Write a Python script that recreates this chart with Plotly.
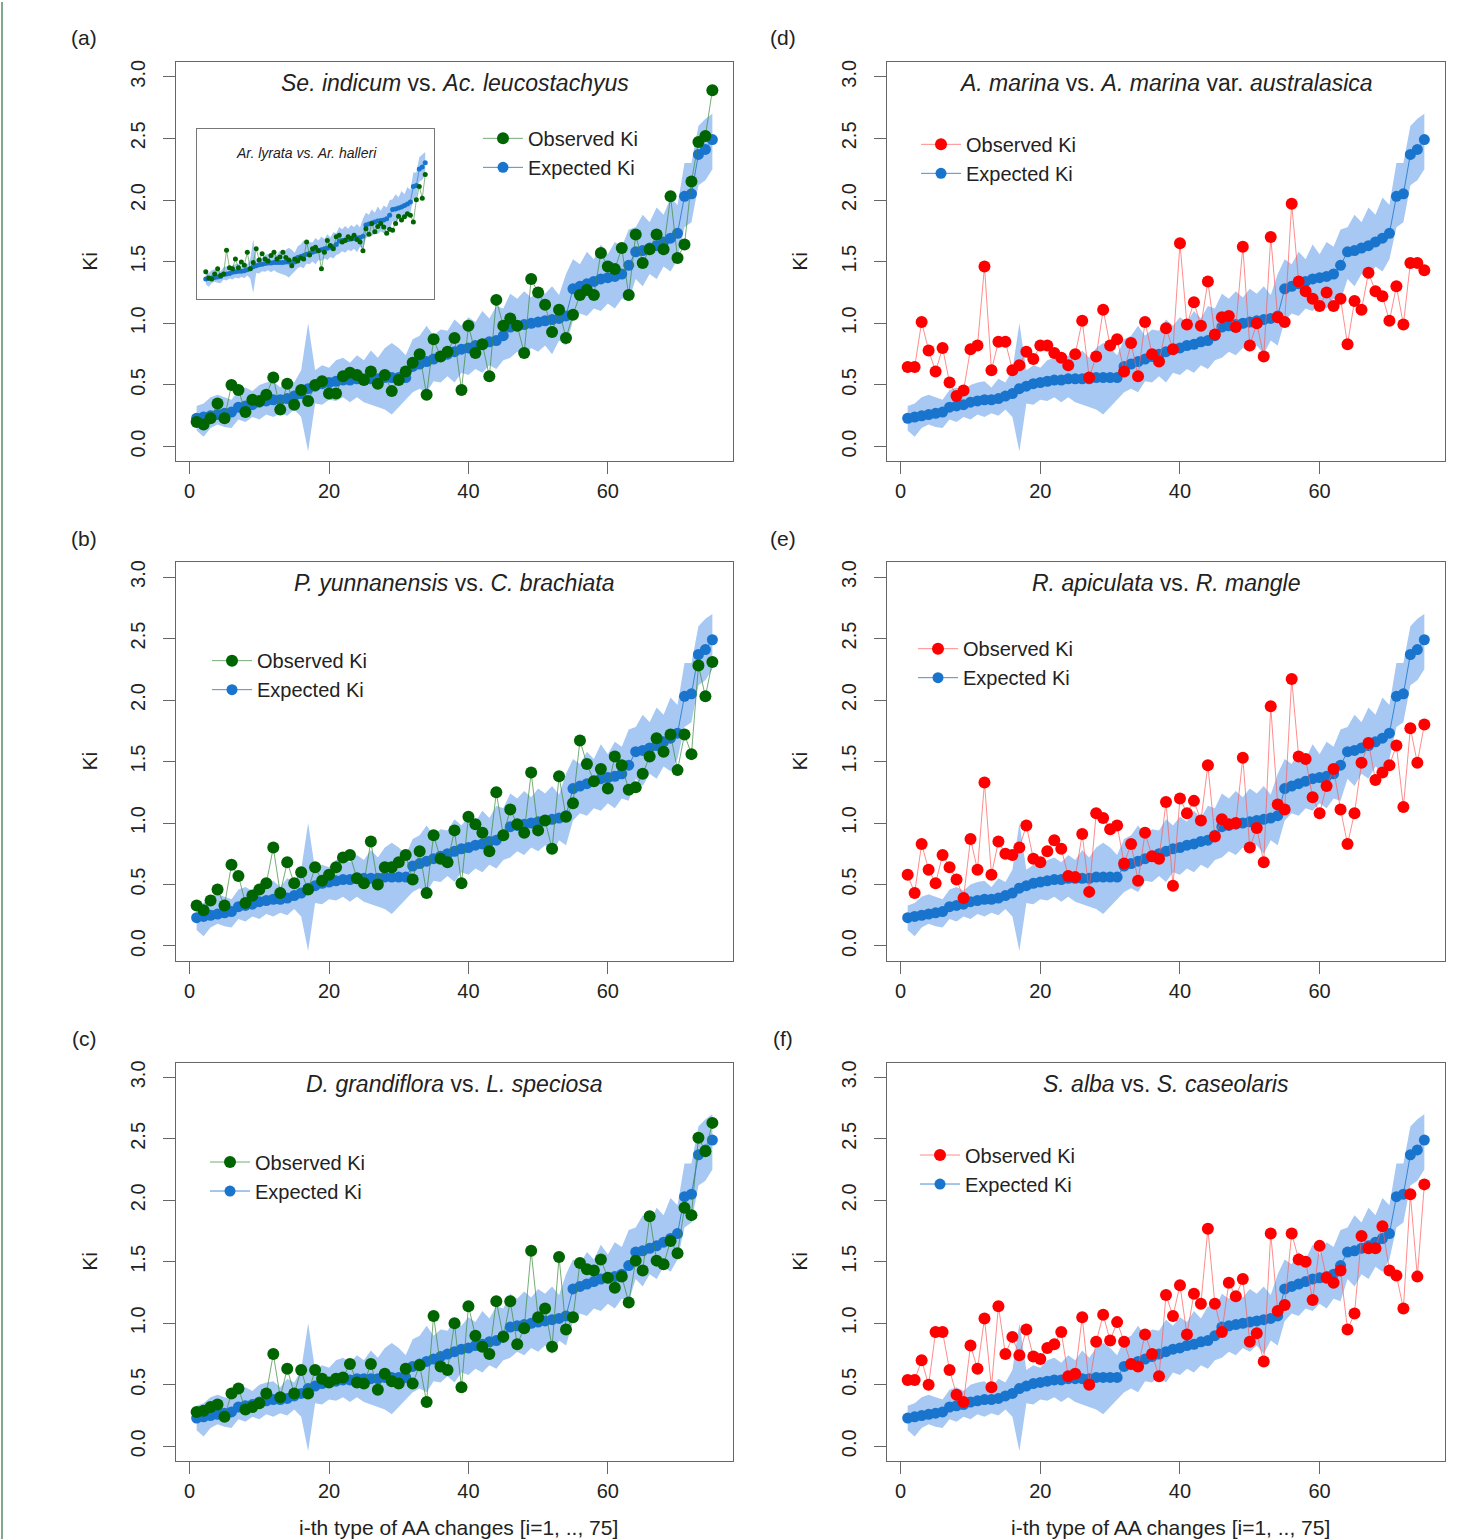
import plotly.graph_objects as go

W, H = 1480, 1539

# ---------------- data ----------------
x_idx = list(range(1, 76))

expected = [0.23, 0.24, 0.25, 0.26, 0.27, 0.28, 0.32, 0.33, 0.34, 0.36,
            0.37, 0.38, 0.38, 0.39, 0.41, 0.43, 0.47, 0.49, 0.51, 0.52,
            0.53, 0.54, 0.54, 0.55, 0.55, 0.55, 0.55, 0.56, 0.56, 0.56,
            0.56, 0.65, 0.67, 0.69, 0.71, 0.73, 0.75, 0.77, 0.79, 0.80,
            0.82, 0.83, 0.85, 0.86, 0.90, 0.97, 0.98, 0.99, 1.00, 1.01,
            1.02, 1.03, 1.04, 1.06, 1.28, 1.30, 1.32, 1.34, 1.36, 1.37,
            1.38, 1.40, 1.47, 1.58, 1.59, 1.61, 1.63, 1.66, 1.69, 1.73,
            2.03, 2.05, 2.37, 2.41, 2.49]

band_lower = [0.13, 0.08, 0.15, 0.18, 0.16, 0.15, 0.22, 0.20, 0.24, 0.22,
              0.26, 0.24, 0.27, 0.25, 0.30, 0.24, -0.04, 0.35, 0.34, 0.38,
              0.37, 0.40, 0.36, 0.40, 0.36, 0.34, 0.32, 0.30, 0.26, 0.32,
              0.38, 0.44, 0.47, 0.44, 0.53, 0.52, 0.57, 0.52, 0.60, 0.58,
              0.63, 0.60, 0.66, 0.63, 0.70, 0.72, 0.77, 0.74, 0.80, 0.77,
              0.82, 0.75, 0.86, 0.82, 1.02, 1.08, 1.06, 1.12, 1.10, 1.16,
              1.12, 1.20, 1.18, 1.36, 1.30, 1.40, 1.36, 1.46, 1.42, 1.52,
              1.78, 1.82, 2.12, 2.16, 2.25]

band_upper = [0.33, 0.35, 0.40, 0.42, 0.40, 0.38, 0.46, 0.48, 0.45, 0.50,
              0.52, 0.53, 0.48, 0.55, 0.52, 0.62, 1.00, 0.62, 0.66, 0.64,
              0.70, 0.72, 0.68, 0.74, 0.70, 0.78, 0.72, 0.80, 0.84, 0.80,
              0.74, 0.87, 0.90, 0.98, 0.90, 0.95, 0.94, 1.03, 0.98, 1.05,
              1.01, 1.10, 1.04, 1.14, 1.12, 1.24, 1.20, 1.26, 1.21, 1.28,
              1.24, 1.30, 1.23, 1.40, 1.52, 1.48, 1.58, 1.52, 1.64, 1.56,
              1.66, 1.62, 1.76, 1.78, 1.88, 1.82, 1.94, 1.88, 2.02, 1.96,
              2.30, 2.30, 2.60, 2.66, 2.70]

obs_a = [0.20, 0.18, 0.23, 0.35, 0.23, 0.50, 0.46, 0.28, 0.38, 0.37,
         0.42, 0.56, 0.30, 0.51, 0.34, 0.46, 0.37, 0.50, 0.53, 0.43,
         0.43, 0.57, 0.60, 0.58, 0.54, 0.61, 0.51, 0.58, 0.45, 0.54,
         0.61, 0.68, 0.75, 0.42, 0.87, 0.73, 0.77, 0.88, 0.46, 0.98,
         0.76, 0.83, 0.57, 1.19, 0.98, 1.04, 0.98, 0.76, 1.36, 1.25,
         1.15, 0.93, 1.11, 0.88, 1.07, 1.23, 1.27, 1.23, 1.57, 1.46,
         1.44, 1.61, 1.23, 1.72, 1.49, 1.60, 1.72, 1.60, 2.03, 1.53,
         1.64, 2.15, 2.47, 2.52, 2.89]

obs_b = [0.33, 0.29, 0.37, 0.46, 0.33, 0.66, 0.57, 0.35, 0.41, 0.46,
         0.51, 0.80, 0.43, 0.68, 0.51, 0.60, 0.46, 0.64, 0.53, 0.58,
         0.64, 0.72, 0.74, 0.55, 0.51, 0.85, 0.50, 0.64, 0.64, 0.68,
         0.74, 0.54, 0.77, 0.43, 0.90, 0.71, 0.68, 0.94, 0.51, 1.05,
         0.99, 0.92, 0.77, 1.25, 0.90, 1.11, 0.99, 0.92, 1.41, 0.94,
         1.02, 0.79, 1.38, 1.05, 1.16, 1.67, 1.48, 1.34, 1.44, 1.28,
         1.54, 1.47, 1.27, 1.29, 1.40, 1.54, 1.69, 1.58, 1.72, 1.43,
         1.72, 1.56, 2.28, 2.03, 2.31]

obs_c = [0.28, 0.29, 0.32, 0.34, 0.24, 0.43, 0.47, 0.30, 0.32, 0.35,
         0.43, 0.75, 0.40, 0.63, 0.43, 0.62, 0.43, 0.62, 0.55, 0.52,
         0.55, 0.56, 0.67, 0.52, 0.51, 0.67, 0.46, 0.59, 0.53, 0.51,
         0.63, 0.51, 0.66, 0.36, 1.06, 0.65, 0.62, 1.00, 0.48, 1.14,
         0.90, 0.81, 0.75, 1.18, 0.89, 1.18, 0.83, 0.96, 1.59, 1.05,
         1.12, 0.81, 1.54, 0.95, 1.05, 1.49, 1.44, 1.43, 1.52, 1.37,
         1.29, 1.38, 1.17, 1.51, 1.43, 1.87, 1.51, 1.48, 1.67, 1.57,
         1.94, 1.88, 2.51, 2.40, 2.63]

obs_d = [0.645, 0.645, 1.01, 0.78, 0.61, 0.80, 0.52, 0.41, 0.455, 0.79,
         0.82, 1.46, 0.62, 0.85, 0.85, 0.62, 0.66, 0.77, 0.71, 0.82,
         0.82, 0.76, 0.72, 0.66, 0.75, 1.02, 0.56, 0.73, 1.11, 0.82,
         0.87, 0.61, 0.84, 0.57, 1.01, 0.75, 0.69, 0.96, 0.79, 1.65,
         0.99, 1.17, 0.98, 1.34, 0.91, 1.05, 1.06, 0.97, 1.62, 0.82,
         1.00, 0.73, 1.70, 1.05, 1.01, 1.97, 1.34, 1.26, 1.20, 1.14,
         1.25, 1.14, 1.20, 0.83, 1.18, 1.11, 1.41, 1.26, 1.22, 1.02,
         1.30, 0.99, 1.49, 1.49, 1.43]

obs_e = [0.58, 0.43, 0.83, 0.62, 0.51, 0.74, 0.64, 0.54, 0.39, 0.87,
         0.62, 1.33, 0.58, 0.85, 0.75, 0.74, 0.80, 0.98, 0.71, 0.68,
         0.77, 0.86, 0.79, 0.57, 0.56, 0.91, 0.44, 1.08, 1.04, 0.95,
         0.98, 0.67, 0.83, 0.53, 0.92, 0.73, 0.71, 1.17, 0.49, 1.20,
         1.08, 1.18, 1.02, 1.47, 0.89, 1.03, 0.99, 1.00, 1.53, 0.80,
         0.96, 0.68, 1.95, 1.15, 1.11, 2.17, 1.54, 1.52, 1.21, 1.08,
         1.30, 1.44, 1.11, 0.83, 1.08, 1.49, 1.65, 1.35, 1.41, 1.47,
         1.63, 1.13, 1.77, 1.49, 1.80]

obs_f = [0.54, 0.54, 0.70, 0.50, 0.93, 0.93, 0.62, 0.42, 0.36, 0.82,
         0.63, 1.04, 0.48, 1.14, 0.75, 0.89, 0.74, 0.95, 0.73, 0.71,
         0.80, 0.83, 0.93, 0.57, 0.59, 1.05, 0.50, 0.85, 1.07, 0.86,
         1.01, 0.85, 0.67, 0.65, 0.91, 0.75, 0.57, 1.23, 1.06, 1.31,
         0.91, 1.24, 1.16, 1.77, 1.16, 0.93, 1.33, 1.22, 1.36, 0.85,
         0.92, 0.69, 1.73, 1.10, 1.15, 1.73, 1.52, 1.50, 1.19, 1.63,
         1.37, 1.33, 1.43, 0.95, 1.08, 1.71, 1.61, 1.61, 1.79, 1.43,
         1.39, 1.12, 2.05, 1.38, 2.13]

inset_obs = [0.37, 0.25, 0.23, 0.33, 0.43, 0.30, 0.33, 0.79, 0.45, 0.43,
             0.62, 0.45, 0.56, 0.50, 0.75, 0.43, 0.55, 0.82, 0.60, 0.72,
             0.62, 0.58, 0.69, 0.75, 0.62, 0.66, 0.75, 0.65, 0.60, 0.49,
             0.62, 0.58, 0.64, 0.62, 0.95, 0.70, 0.82, 0.85, 0.78, 0.43,
             0.75, 0.98, 0.88, 0.82, 1.05, 1.08, 0.95, 0.98, 1.05, 1.02,
             1.08, 1.00, 0.95, 0.78, 1.21, 1.10, 1.31, 1.15, 1.25, 1.31,
             1.24, 1.12, 1.20, 1.18, 1.31, 1.45, 1.38, 1.44, 1.50, 1.47,
             1.34, 1.77, 2.03, 1.80, 2.26]

panel_labels = ["(a)", "(b)", "(c)", "(d)", "(e)", "(f)"]
panel_titles = [
    "<i>Se. indicum</i> vs. <i>Ac. leucostachyus</i>",
    "<i>P. yunnanensis</i> vs. <i>C. brachiata</i>",
    "<i>D. grandiflora</i> vs. <i>L. speciosa</i>",
    "<i>A. marina</i> vs. <i>A. marina</i> var. <i>australasica</i>",
    "<i>R. apiculata</i> vs. <i>R. mangle</i>",
    "<i>S. alba</i> vs. <i>S. caseolaris</i>",
]
inset_title = "<i>Ar. lyrata vs. Ar. halleri</i>"
observed_series = [obs_a, obs_b, obs_c, obs_d, obs_e, obs_f]
x_ticks = [0, 20, 40, 60]
y_ticks = [0.0, 0.5, 1.0, 1.5, 2.0, 2.5, 3.0]
y_ticklabels = ["0.0", "0.5", "1.0", "1.5", "2.0", "2.5", "3.0"]
x_title = "i-th type of AA changes [i=1, .., 75]"
y_title = "Ki"

# ---------------- styling / layout ----------------
FONT = "Liberation Sans, Arial, Helvetica, sans-serif"
TXT = "#222222"
GREEN = "#006400"
GREEN_LINE = "#3a8a3a"
RED = "#ff0000"
RED_LINE = "#ff5a5a"
BLUE = "#1874cd"
BAND = "rgb(166,200,243)"
AXC = "#666666"

cols = {"L": (176, 733), "R": (887, 1445)}
rows = [(60, 460), (561, 960), (1062, 1461)]
panel_pos = [("L", 0), ("L", 1), ("L", 2), ("R", 0), ("R", 1), ("R", 2)]
obs_colors = [(GREEN, GREEN_LINE)] * 3 + [(RED, RED_LINE)] * 3
legend_pos = [(500, 134), (229, 657), (227, 1159), (938, 140), (935, 645), (937, 1152)]


def xdom(l, r):
    return [l / W, r / W]


def ydom(t, b):
    return [1 - b / H, 1 - t / H]


fig = go.Figure()
layout = dict(
    width=W, height=H,
    margin=dict(l=0, r=0, t=0, b=0),
    paper_bgcolor="white", plot_bgcolor="white",
    font=dict(family=FONT, size=19, color=TXT),
    showlegend=True,
)
annotations = []
shapes = []

for k in range(6):
    n = k + 1
    ax = "" if n == 1 else str(n)
    xref, yref = "x" + ax, "y" + ax
    col, row = panel_pos[k]
    l, r = cols[col]
    t, b = rows[row]
    leg = "legend" if n == 1 else f"legend{n}"

    layout["xaxis" + ax] = dict(
        domain=xdom(l, r), range=[-1.96, 77.96], anchor=yref,
        tickvals=x_ticks, ticks="outside", ticklen=12, tickwidth=1, tickcolor=AXC,
        showline=True, mirror=True, linecolor=AXC, linewidth=1,
        showgrid=False, zeroline=False, ticklabelstandoff=0,
        tickfont=dict(size=20, color=TXT, family=FONT),
    )
    layout["yaxis" + ax] = dict(
        domain=ydom(t, b), range=[-0.12, 3.12], anchor=xref,
        tickvals=y_ticks, ticktext=y_ticklabels, tickangle=-90,
        ticks="outside", ticklen=12, tickwidth=1, tickcolor=AXC,
        showline=True, mirror=True, linecolor=AXC, linewidth=1,
        showgrid=False, zeroline=False, ticklabelstandoff=10,
        tickfont=dict(size=20, color=TXT, family=FONT),
    )

    # band
    fig.add_trace(go.Scatter(x=x_idx, y=band_lower, mode="lines", line=dict(width=0, color=BAND),
                             xaxis=xref, yaxis=yref, showlegend=False, hoverinfo="skip"))
    fig.add_trace(go.Scatter(x=x_idx, y=band_upper, mode="lines", line=dict(width=0, color=BAND),
                             fill="tonexty", fillcolor=BAND,
                             xaxis=xref, yaxis=yref, showlegend=False, hoverinfo="skip"))
    # expected
    fig.add_trace(go.Scatter(x=x_idx, y=expected, mode="lines+markers", name="Expected Ki",
                             line=dict(width=0.8, color=BLUE), marker=dict(size=11, color=BLUE),
                             xaxis=xref, yaxis=yref, legend=leg, legendrank=2))
    # observed
    mc, lc = obs_colors[k]
    fig.add_trace(go.Scatter(x=x_idx, y=observed_series[k], mode="lines+markers", name="Observed Ki",
                             line=dict(width=0.7, color=lc), marker=dict(size=12, color=mc),
                             xaxis=xref, yaxis=yref, legend=leg, legendrank=1))

    lx, ly = legend_pos[k]
    layout[leg] = dict(
        x=(lx - 22) / W, y=1 - (ly - 17) / H, xanchor="left", yanchor="top",
        bgcolor="rgba(0,0,0,0)", borderwidth=0, tracegroupgap=0, itemwidth=40,
        font=dict(size=20, color=TXT, family=FONT), traceorder="normal",
    )

    # panel title
    annotations.append(dict(text=panel_titles[k], x=(l + r) / 2 / W, y=1 - (t + 21) / H,
                            xref="paper", yref="paper", showarrow=False,
                            xanchor="center", yanchor="middle",
                            font=dict(size=23, color=TXT, family=FONT)))
    # panel label
    lab_x = 84 if col == "L" else 783
    annotations.append(dict(text=panel_labels[k], x=lab_x / W, y=1 - (t - 24) / H,
                            xref="paper", yref="paper", showarrow=False,
                            xanchor="center", yanchor="middle",
                            font=dict(size=21, color=TXT, family=FONT)))
    # y title
    yt_x = 90 if col == "L" else 800
    annotations.append(dict(text=y_title, x=yt_x / W, y=1 - ((t + b) / 2) / H,
                            xref="paper", yref="paper", showarrow=False, textangle=-90,
                            xanchor="center", yanchor="middle",
                            font=dict(size=21, color=TXT, family=FONT)))
    if row == 2:
        annotations.append(dict(text=x_title, x=((l + r) / 2 + 4) / W, y=1 - 1527 / H,
                                xref="paper", yref="paper", showarrow=False,
                                xanchor="center", yanchor="middle",
                                font=dict(size=21, color=TXT, family=FONT)))

# ---------------- inset in panel (a) ----------------
layout["xaxis7"] = dict(domain=xdom(197, 434), range=[-1.96, 77.96], anchor="y7",
                        showticklabels=False, ticks="", showline=True, mirror=True,
                        linecolor="#777777", linewidth=1.2, showgrid=False, zeroline=False)
layout["yaxis7"] = dict(domain=ydom(127, 297), range=[-0.15, 3.15], anchor="x7",
                        showticklabels=False, ticks="", showline=True, mirror=True,
                        linecolor="#777777", linewidth=1.2, showgrid=False, zeroline=False)
fig.add_trace(go.Scatter(x=x_idx, y=band_lower, mode="lines", line=dict(width=0, color=BAND),
                         xaxis="x7", yaxis="y7", showlegend=False, hoverinfo="skip"))
fig.add_trace(go.Scatter(x=x_idx, y=band_upper, mode="lines", line=dict(width=0, color=BAND),
                         fill="tonexty", fillcolor=BAND,
                         xaxis="x7", yaxis="y7", showlegend=False, hoverinfo="skip"))
fig.add_trace(go.Scatter(x=x_idx, y=expected, mode="lines+markers",
                         line=dict(width=0.6, color=BLUE), marker=dict(size=5, color=BLUE),
                         xaxis="x7", yaxis="y7", showlegend=False))
fig.add_trace(go.Scatter(x=x_idx, y=inset_obs, mode="lines+markers",
                         line=dict(width=0.6, color=GREEN_LINE), marker=dict(size=5, color=GREEN),
                         xaxis="x7", yaxis="y7", showlegend=False))
annotations.append(dict(text=inset_title, x=306 / W, y=1 - 151 / H, xref="paper", yref="paper",
                        showarrow=False, xanchor="center", yanchor="middle",
                        font=dict(size=14, color=TXT, family=FONT)))

# left green frame edge
shapes.append(dict(type="line", xref="paper", yref="paper", x0=2 / W, x1=2 / W, y0=0, y1=1,
                   line=dict(color="#7fa98a", width=2)))

layout["annotations"] = annotations
layout["shapes"] = shapes
fig.update_layout(**layout)

fig.write_html("out.html")
